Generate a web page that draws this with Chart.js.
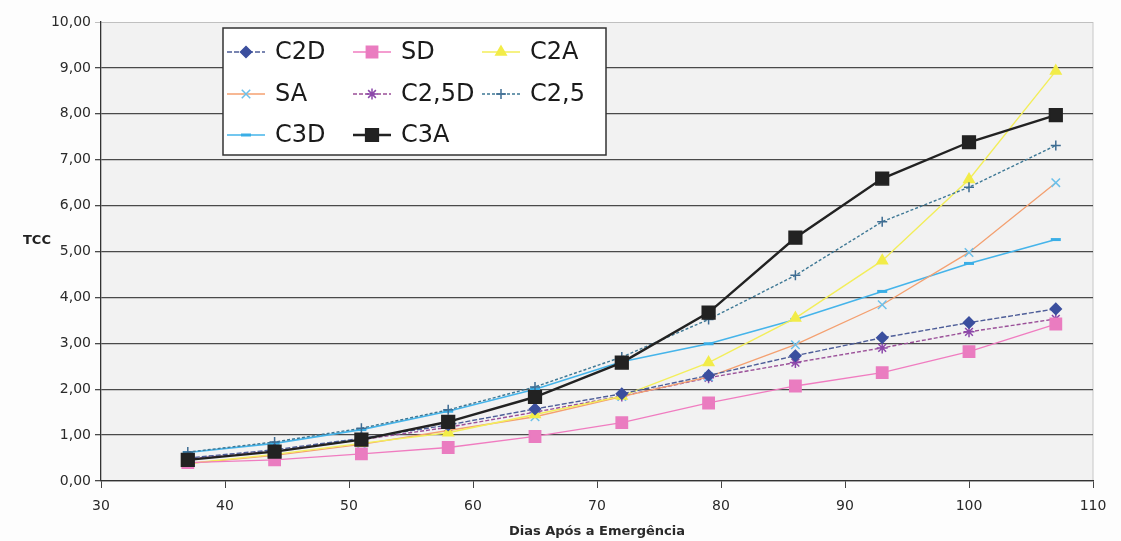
<!DOCTYPE html>
<html>
<head>
<meta charset="utf-8">
<script src="https://cdn.jsdelivr.net/npm/chart.js"></script>
<style>
  html, body { margin: 0; padding: 0; background: #fdfdfd; }
  #wrap { width: 1121px; height: 541px; position: relative; }
</style>
</head>
<body>
<div id="wrap"><canvas id="grafico"></canvas></div>
<script>
// Dados
const dias = [37, 44, 51, 58, 65, 72, 79, 86, 93, 100, 107];
const c2d  = [0.50, 0.68, 0.93, 1.22, 1.57, 1.90, 2.30, 2.73, 3.12, 3.45, 3.75];
const sd   = [0.40, 0.46, 0.59, 0.73, 0.97, 1.27, 1.70, 2.07, 2.36, 2.82, 3.42];
const c2a  = [0.38, 0.58, 0.82, 1.05, 1.45, 1.85, 2.58, 3.55, 4.80, 6.57, 8.93];
const sa   = [0.38, 0.56, 0.80, 1.10, 1.40, 1.84, 2.27, 2.97, 3.84, 4.98, 6.50];
const c25d = [0.48, 0.65, 0.90, 1.17, 1.50, 1.85, 2.25, 2.58, 2.90, 3.25, 3.53];
const c25  = [0.63, 0.85, 1.15, 1.55, 2.05, 2.70, 3.52, 4.48, 5.65, 6.40, 7.31];
const c3d  = [0.62, 0.82, 1.12, 1.52, 2.00, 2.60, 2.99, 3.52, 4.13, 4.74, 5.26];
const c3a  = [0.46, 0.64, 0.90, 1.29, 1.83, 2.58, 3.67, 5.30, 6.59, 7.38, 7.97];

const nomes = ['C2D', 'SD', 'C2A', 'SA', 'C2,5D', 'C2,5', 'C3D', 'C3A'];
const valores = [c2d, sd, c2a, sa, c25d, c25, c3d, c3a];

// estilo de cada série: [cor linha, cor marcador, marcador, raio, espessura, tracejado]
const estilos = [
  ['#4d5d98', '#3b4f9e', 'rectRot', 5.5, 1.4, [5, 2]],
  ['#f07cc0', '#ea7cc0', 'rect', 8, 1.3, []],
  ['#f3ee5a', '#f2ec48', 'triangle', 6, 1.4, []],
  ['#f4a070', '#6cc0ea', 'crossRot', 6, 1.3, []],
  ['#9a4f98', '#8c48aa', 'star', 5.5, 1.4, [4, 2]],
  ['#3e7895', '#3e6c92', 'cross', 5, 1.4, [3, 2]],
  ['#45b4ea', '#3aaee6', 'line', 5, 1.6, []],
  ['#222222', '#222222', 'rect', 9, 2.4, []]
];

const fmt = v => v.toFixed(2).replace('.', ',');

const datasets = nomes.map((nome, i) => {
  const [linha, marca, estilo, raio, esp, dash] = estilos[i];
  return {
    label: nome,
    data: dias.map((d, j) => ({ x: d, y: valores[i][j] })),
    borderColor: linha,
    backgroundColor: marca,
    pointBackgroundColor: marca,
    pointBorderColor: marca,
    pointStyle: estilo,
    pointRadius: raio,
    pointBorderWidth: estilo === 'line' ? 3 : 1.5,
    borderWidth: esp,
    borderDash: dash,
    tension: 0,
    order: nome === 'C3A' ? 0 : (nome === 'C2,5' ? 1 : 2)
  };
});

// fundo da área de plotagem
const fundoArea = {
  id: 'fundoArea',
  beforeDraw(chart) {
    const { ctx, chartArea: a } = chart;
    ctx.save();
    ctx.fillStyle = '#f2f2f2';
    ctx.fillRect(a.left, a.top, a.right - a.left, a.bottom - a.top);
    ctx.strokeStyle = '#c8c8c8';
    ctx.lineWidth = 1;
    ctx.beginPath();
    ctx.moveTo(a.right, a.top);
    ctx.lineTo(a.right, a.bottom);
    ctx.stroke();
    ctx.restore();
  }
};

// título "TCC" na horizontal
const tituloY = {
  id: 'tituloY',
  afterDraw(chart) {
    const { ctx } = chart;
    ctx.save();
    ctx.font = 'bold 13px "DejaVu Sans"';
    ctx.fillStyle = '#222';
    ctx.textAlign = 'left';
    ctx.textBaseline = 'middle';
    ctx.fillText('TCC', 23, 241);
    ctx.restore();
  }
};

// legenda em caixa, 3 colunas
const legendaCaixa = {
  id: 'legendaCaixa',
  afterDraw(chart) {
    const { ctx } = chart;
    const caixa = { x: 223, y: 28, w: 383, h: 127 };
    const colunas = [227, 353, 482];
    const linhas = [52, 94, 135];
    ctx.save();
    ctx.fillStyle = '#ffffff';
    ctx.fillRect(caixa.x, caixa.y, caixa.w, caixa.h);
    ctx.strokeStyle = '#333';
    ctx.lineWidth = 1.5;
    ctx.strokeRect(caixa.x, caixa.y, caixa.w, caixa.h);
    chart.data.datasets.forEach((ds, i) => {
      const x0 = colunas[i % 3];
      const y0 = linhas[Math.floor(i / 3)];
      ctx.strokeStyle = ds.borderColor;
      ctx.lineWidth = Math.max(1.3, ds.borderWidth);
      ctx.setLineDash(ds.borderDash || []);
      ctx.beginPath();
      ctx.moveTo(x0, y0);
      ctx.lineTo(x0 + 38, y0);
      ctx.stroke();
      ctx.setLineDash([]);
      ctx.fillStyle = ds.pointBackgroundColor;
      ctx.strokeStyle = ds.pointBorderColor;
      ctx.lineWidth = ds.pointBorderWidth;
      Chart.helpers.drawPoint(ctx, {
        pointStyle: ds.pointStyle,
        radius: ds.pointRadius,
        rotation: 0,
        borderWidth: ds.pointBorderWidth
      }, x0 + 19, y0);
      ctx.fillStyle = '#1a1a1a';
      ctx.font = '24px "DejaVu Sans"';
      ctx.textAlign = 'left';
      ctx.textBaseline = 'middle';
      ctx.fillText(ds.label, x0 + 48, y0 + 1);
    });
    ctx.restore();
  }
};

new Chart(document.getElementById('grafico'), {
  type: 'line',
  data: { datasets },
  options: {
    responsive: true,
    maintainAspectRatio: false,
    animation: false,
    layout: { padding: { top: 22, right: 28, left: 0, bottom: 0 } },
    plugins: {
      legend: { display: false },
      tooltip: { enabled: false }
    },
    scales: {
      x: {
        type: 'linear',
        min: 30,
        max: 110,
        afterFit: s => { s.height = 60; },
        ticks: {
          stepSize: 10,
          padding: 10,
          color: '#2a2a2a',
          font: { family: 'DejaVu Sans', size: 14 }
        },
        grid: { drawOnChartArea: false, drawTicks: true, tickLength: 7, color: '#444' },
        border: { color: '#333', width: 1.3 },
        title: {
          display: true,
          text: 'Dias Após a Emergência',
          color: '#2a2a2a',
          font: { family: 'DejaVu Sans', size: 13, weight: 'bold' },
          padding: { top: 4, bottom: 2 }
        }
      },
      y: {
        min: 0,
        max: 10,
        afterFit: s => { s.width = 101; },
        ticks: {
          stepSize: 1,
          padding: 4,
          color: '#2a2a2a',
          font: { family: 'DejaVu Sans', size: 14 },
          callback: v => fmt(v)
        },
        grid: {
          tickLength: 6,
          color: ctx => (ctx.tick && ctx.tick.value === 10 ? '#c0c0c0' : '#4a4a4a'),
          lineWidth: ctx => (ctx.tick && ctx.tick.value === 10 ? 1 : 1.3)
        },
        border: { color: '#333', width: 1.3 }
      }
    }
  },
  plugins: [fundoArea, tituloY, legendaCaixa]
});
</script>
</body>
</html>
